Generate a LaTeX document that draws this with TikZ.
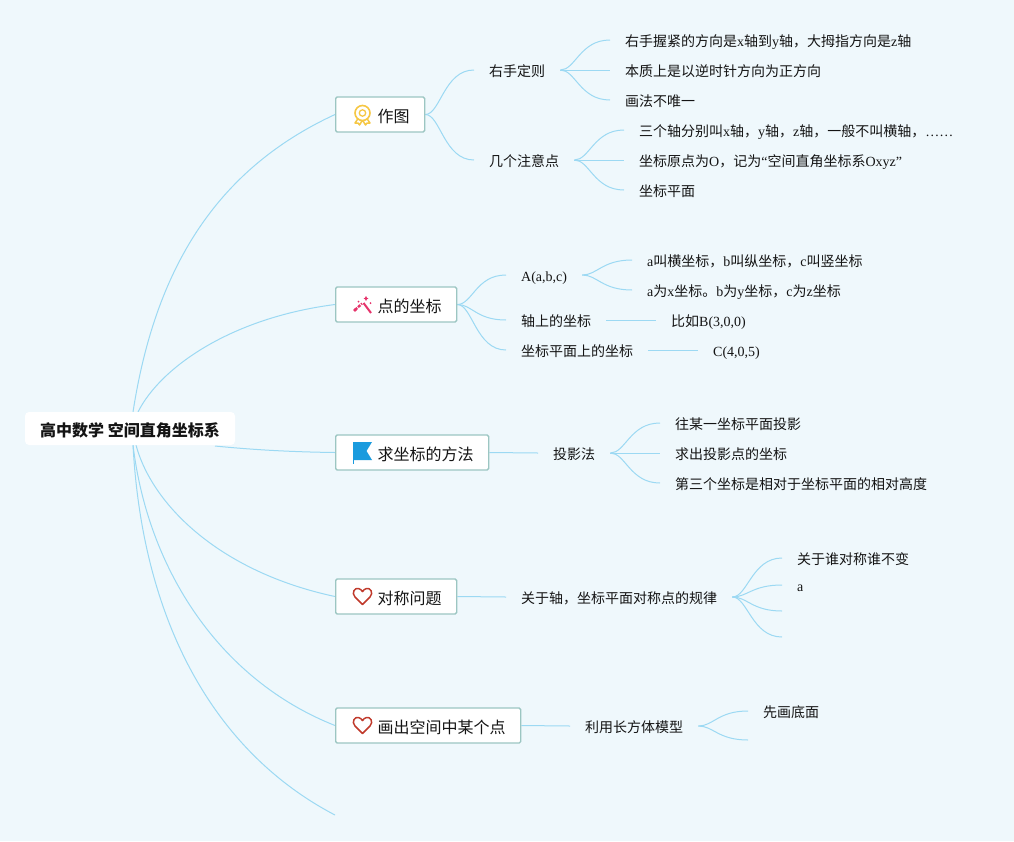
\documentclass[tikz,border=0pt]{standalone}
\usepackage{fontspec}
\setmainfont{Noto Sans CJK SC}
\newfontfamily\latinf{Liberation Serif}
\newcommand{\lt}[1]{{\latinf #1}}
\usetikzlibrary{backgrounds}
\definecolor{bgc}{HTML}{EFF8FC}
\definecolor{linkc}{HTML}{9CD9F3}
\definecolor{edgec}{HTML}{9CC6C2}
\definecolor{goldc}{HTML}{F6C744}
\definecolor{pinkc}{HTML}{E6336B}
\definecolor{flagc}{HTML}{1A9BDE}
\definecolor{heartc}{HTML}{C0392B}
\tikzset{
  x=1pt,y=-1pt,
  every node/.style={font=\fontsize{14}{16}\selectfont,text=black!92},
  leaf/.style={anchor=west,inner ysep=0pt,inner xsep=15pt,text height=13pt,text depth=1pt},
  main/.style={anchor=west,draw=edgec,line width=1.3pt,fill=white,rounded corners=1.5pt,inner ysep=0pt,inner xsep=0pt,minimum height=35pt,text height=15pt,text depth=0pt,font=\fontsize{16}{18}\selectfont},
  rootbox/.style={fill=white,rounded corners=4pt,inner sep=0pt,minimum width=210pt,minimum height=33pt,text height=15pt,text depth=0pt,font=\fontsize{16}{18}\selectfont\bfseries},
  link/.style={draw=linkc,line width=1pt},
}
\newcommand{\mt}[1]{\kern42pt#1\kern15pt}
\begin{document}
\begin{tikzpicture}
\useasboundingbox (0,0) rectangle (1014,841);
% root and main topics
\node[rootbox] (root) at (130,428.5) {高中数学 空间直角坐标系};
\node[main] (m1) at (335,114.5) {\mt{作图}};
\node[main] (m2) at (335,304.5) {\mt{点的坐标}};
\node[main] (m3) at (335,452.5) {\mt{求坐标的方法}};
\node[main] (m4) at (335,596.5) {\mt{对称问题}};
\node[main] (m5) at (335,725.5) {\mt{画出空间中某个点}};
\coordinate (m6) at (335,815);
\coordinate (r1) at (133,412);
\coordinate (r2) at (138,412);
\coordinate (r3) at (215,446);
\coordinate (r4) at (136,445);
\coordinate (r5) at (133,445);
\coordinate (r6) at (133,445);
% first level
\node[leaf] (a1) at (474,70) {右手定则};
\node[leaf] (a2) at (474,160) {几个注意点};
\node[leaf] (b1) at (506,275) {\lt{A(a,b,c)}};
\node[leaf] (b2) at (506,320) {轴上的坐标};
\node[leaf] (b3) at (506,350) {坐标平面上的坐标};
\node[leaf] (c1) at (538,453) {投影法};
\node[leaf] (d1) at (506,597) {关于轴，坐标平面对称点的规律};
\node[leaf] (e1) at (570,726) {利用长方体模型};
% leaves
\node[leaf] (a11) at (610,40) {右手握紧的方向是\lt{x}轴到\lt{y}轴，大拇指方向是\lt{z}轴};
\node[leaf] (a12) at (610,70) {本质上是以逆时针方向为正方向};
\node[leaf] (a13) at (610,100) {画法不唯一};
\node[leaf] (a21) at (624,130) {三个轴分别叫\lt{x}轴，\lt{y}轴，\lt{z}轴，一般不叫横轴，\lt{……}};
\node[leaf] (a22) at (624,160) {坐标原点为\lt{O}，记为\lt{“}空间直角坐标系\lt{Oxyz”}};
\node[leaf] (a23) at (624,190) {坐标平面};
\node[leaf] (b11) at (632,260) {\lt{a}叫横坐标，\lt{b}叫纵坐标，\lt{c}叫竖坐标};
\node[leaf] (b12) at (632,290) {\lt{a}为\lt{x}坐标。\lt{b}为\lt{y}坐标，\lt{c}为\lt{z}坐标};
\node[leaf] (b21) at (656,320) {比如\lt{B(3,0,0)}};
\node[leaf] (b31) at (698,350) {\lt{C(4,0,5)}};
\node[leaf] (c11) at (660,423) {往某一坐标平面投影};
\node[leaf] (c12) at (660,453) {求出投影点的坐标};
\node[leaf] (c13) at (660,483) {第三个坐标是相对于坐标平面的相对高度};
\node[leaf] (d11) at (782,558) {关于谁对称谁不变};
\node[leaf] (d12) at (782,585) {\lt{a}};
\coordinate (d13) at (782,611);
\coordinate (d14) at (782,637);
\node[leaf] (e11) at (748,711) {先画底面};
\coordinate (e12) at (748,740);
% icons
\begin{scope}[shift={(362.5,113)}]
 \draw[goldc,line width=1.5pt,line join=round,fill=white] (-4,5) -- (-7.5,10) -- (-4.5,10) -- (-3,12) -- (0,7) -- (3,12) -- (4.5,10) -- (7.5,10) -- (4,5);
 \draw[goldc,line width=1.6pt,fill=white] (0,0) circle (7.5pt);
 \draw[goldc,line width=1.3pt] (0,0) circle (3.2pt);
\end{scope}
\begin{scope}[shift={(362.5,306)}]
 \draw[pinkc,line width=2pt] (1,-3) -- (8.5,7);
 \draw[pinkc,line width=2.4pt,dash pattern=on 3pt off 1.2pt] (-7.5,4) -- (-0.5,-2.5);
 \fill[pinkc] (-7.5,4) circle (1.8pt);
 \fill[pinkc] (3.5,-10) -- (4.5,-8.2) -- (6,-7.5) -- (4.5,-6.8) -- (3.5,-5) -- (2.5,-6.8) -- (1,-7.5) -- (2.5,-8.2) -- cycle;
 \fill[pinkc] (8,-3) circle (1pt) (-4,-4.5) circle (1pt);
\end{scope}
\begin{scope}[shift={(353,442)}]
 \fill[flagc] (0,0) -- (19,0) -- (13.5,9) -- (19,18) -- (0,18) -- cycle;
 \draw[flagc,line width=1.1pt] (0.5,0) -- (0.5,22);
\end{scope}
\foreach \hy in {596.5,725.5}{
 \draw[heartc,line width=1.5pt,line join=round] (362.5,\hy+8) -- (355,\hy+0.5) .. controls (351,\hy-4) and (355,\hy-9) .. (358.5,\hy-8) .. controls (360,\hy-7.7) and (361.5,\hy-6.5) .. (362.5,\hy-5) .. controls (363.5,\hy-6.5) and (365,\hy-7.7) .. (366.5,\hy-8) .. controls (370,\hy-9) and (374,\hy-4) .. (370,\hy+0.5) -- cycle;
}
% connectors
\begin{pgfonlayer}{background}
\fill[bgc] (0,0) rectangle (1014,841);
\draw[link] (r1) .. controls (155,270) and (215,170) .. (m1.west);
\draw[link] (r2) .. controls (160,368) and (230,318) .. (m2.west);
\draw[link] (r3) .. controls (255,450) and (295,452) .. (m3.west);
\draw[link] (r4) .. controls (152,505) and (220,572) .. (m4.west);
\draw[link] (r5) .. controls (148,570) and (220,680) .. (m5.west);
\draw[link] (r6) .. controls (143,630) and (220,755) .. (m6);
\foreach \p/\q in {m1.east/a1.west,m1.east/a2.west,m2.east/b1.west,m2.east/b2.west,m2.east/b3.west,a1.east/a11.west,a1.east/a13.west,a2.east/a21.west,a2.east/a23.west,b1.east/b11.west,b1.east/b12.west,c1.east/c11.west,c1.east/c13.west,d1.east/d11.west,d1.east/d12.west,d1.east/d13,d1.east/d14,e1.east/e11.west,e1.east/e12}{
 \draw[link] (\p) .. controls +(15,0) and +(-30,0) .. (\q);
}
\foreach \p/\q in {a1.east/a12.west,a2.east/a22.west,b2.east/b21.west,b3.east/b31.west,c1.east/c12.west,m3.east/c1.west,m4.east/d1.west,m5.east/e1.west}{
 \draw[link] (\p) -- (\q);
}
\end{pgfonlayer}
\end{tikzpicture}
\end{document}
